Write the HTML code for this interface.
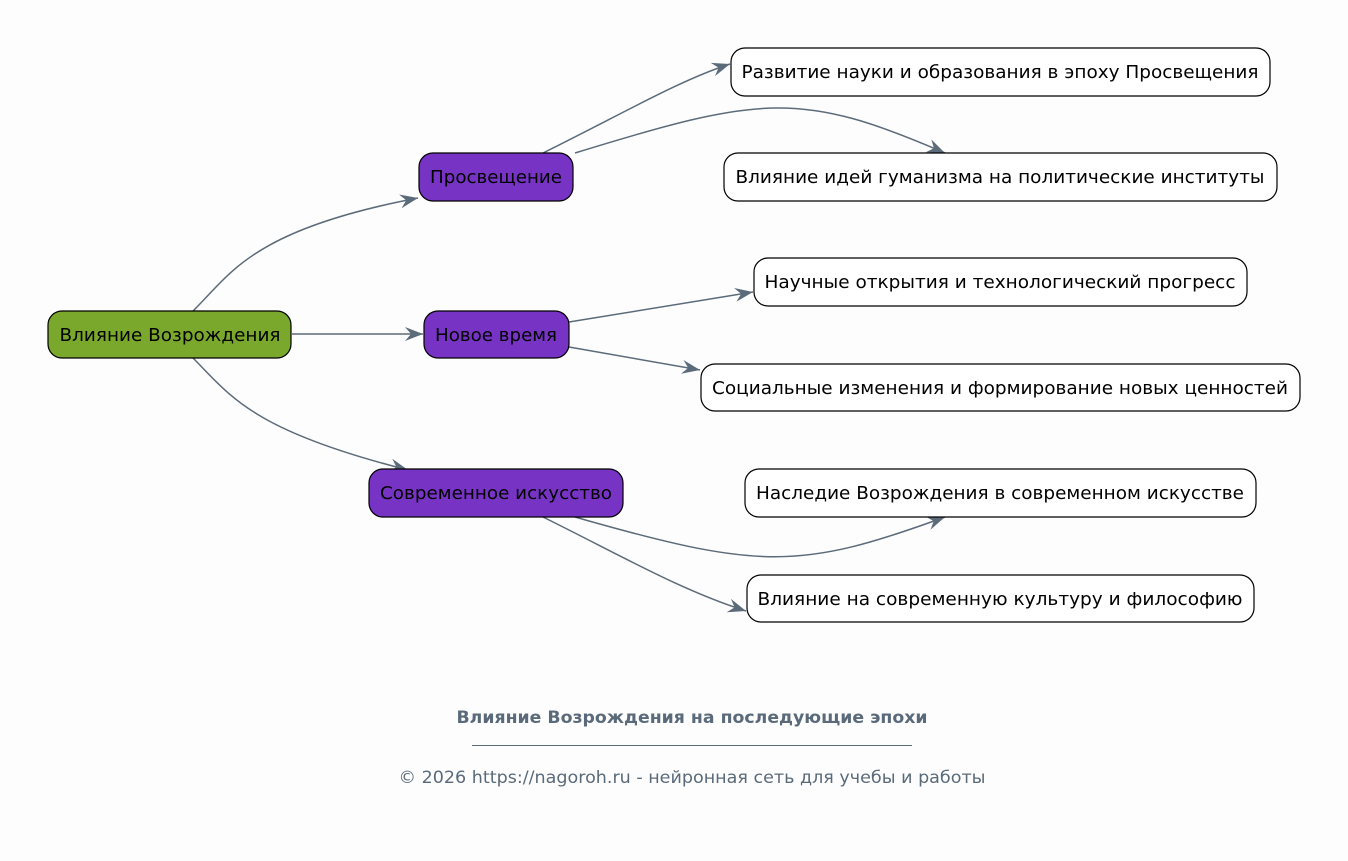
<!DOCTYPE html>
<html><head><meta charset="utf-8"><style>
html,body{margin:0;padding:0;background:#fdfdfd;}
svg{display:block;}
text{font-family:"DejaVu Sans","Liberation Sans",sans-serif;}
</style></head><body>
<svg width="1348" height="861" viewBox="0 0 1348 861" xmlns="http://www.w3.org/2000/svg">
<defs>
<marker id="a" markerUnits="userSpaceOnUse" markerWidth="20" markerHeight="16" refX="18" refY="8" orient="auto">
<path d="M0,1 L18,8 L0,15 L6,8 Z" fill="#5c6b7a"/>
</marker>
</defs>
<rect width="1348" height="861" fill="#fdfdfd"/>
<g fill="none" stroke="#5c6b7a" stroke-width="1.5">
<path d="M193,311 C230,275 250,230 418,198" marker-end="url(#a)"/>
<path d="M292,334 L423,334" marker-end="url(#a)"/>
<path d="M193,358 C230,395 250,430 408,470" marker-end="url(#a)"/>
<path d="M543,153 C620,115 680,80 730,64" marker-end="url(#a)"/>
<path d="M575,153 C760,96 800,90 945,153" marker-end="url(#a)"/>
<path d="M569,322 L753,292" marker-end="url(#a)"/>
<path d="M569,347 L700,370" marker-end="url(#a)"/>
<path d="M575,517 C760,570 800,570 945,517" marker-end="url(#a)"/>
<path d="M543,517 C620,555 680,590 746,611" marker-end="url(#a)"/>
</g>
<g stroke="#000" stroke-width="1.2">
<rect x="48" y="311" width="243" height="47" rx="14" fill="#79a82c"/>
<rect x="419" y="153" width="154" height="48" rx="14" fill="#7733c4"/>
<rect x="424" y="311" width="145" height="47" rx="14" fill="#7733c4"/>
<rect x="369" y="469" width="254" height="48" rx="14" fill="#7733c4"/>
<rect x="731" y="48" width="539" height="48" rx="14" fill="#fff"/>
<rect x="724" y="153" width="553" height="48" rx="14" fill="#fff"/>
<rect x="754" y="258" width="493" height="48" rx="14" fill="#fff"/>
<rect x="701" y="364" width="599" height="47" rx="14" fill="#fff"/>
<rect x="745" y="469" width="511" height="48" rx="14" fill="#fff"/>
<rect x="747" y="575" width="507" height="47" rx="14" fill="#fff"/>
</g>
<g font-size="17.5" fill="#000" text-anchor="middle" lengthAdjust="spacingAndGlyphs">
<text x="170" y="341" textLength="221" lengthAdjust="spacingAndGlyphs">Влияние Возрождения</text>
<text x="496" y="183" textLength="132" lengthAdjust="spacingAndGlyphs">Просвещение</text>
<text x="496" y="341" textLength="122" lengthAdjust="spacingAndGlyphs">Новое время</text>
<text x="496" y="499" textLength="232" lengthAdjust="spacingAndGlyphs">Современное искусство</text>
<text x="1000" y="78" textLength="517" lengthAdjust="spacingAndGlyphs">Развитие науки и образования в эпоху Просвещения</text>
<text x="1000" y="183" textLength="529" lengthAdjust="spacingAndGlyphs">Влияние идей гуманизма на политические институты</text>
<text x="1000" y="288" textLength="471" lengthAdjust="spacingAndGlyphs">Научные открытия и технологический прогресс</text>
<text x="1000" y="394" textLength="576" lengthAdjust="spacingAndGlyphs">Социальные изменения и формирование новых ценностей</text>
<text x="1000" y="499" textLength="488" lengthAdjust="spacingAndGlyphs">Наследие Возрождения в современном искусстве</text>
<text x="1000" y="605" textLength="485" lengthAdjust="spacingAndGlyphs">Влияние на современную культуру и философию</text>
</g>
<text x="692" y="723" font-size="16.5" font-weight="bold" fill="#5a6a7a" text-anchor="middle" textLength="471" lengthAdjust="spacingAndGlyphs">Влияние Возрождения на последующие эпохи</text>
<line x1="472" y1="745.5" x2="912" y2="745.5" stroke="#5a6a7a" stroke-width="1"/>
<text x="692" y="783" font-size="16.5" fill="#5a6a7a" text-anchor="middle" textLength="587" lengthAdjust="spacingAndGlyphs">© 2026 https://nagoroh.ru - нейронная сеть для учебы и работы</text>
</svg>
</body></html>
